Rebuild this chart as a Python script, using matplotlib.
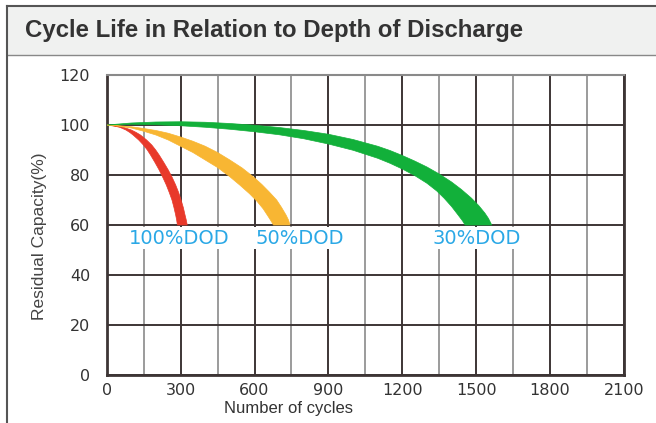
import matplotlib.pyplot as plt
import matplotlib.patches as patches
import numpy as np

# residual capacity bands (cycles, %)
red_outer_x = [0, 45, 70, 100, 120, 137, 162, 183, 199, 213, 232, 250, 266, 280, 292, 302, 311, 318, 323, 327]
red_outer_y = [100, 99.5, 99, 98, 97, 96, 94, 92, 90, 88, 85, 82, 79, 76, 73, 70, 67, 64, 62, 60]
red_inner_x = [0, 35, 55, 78, 94, 107, 130, 149, 165, 178, 196, 213, 228, 242, 254, 265, 273, 280, 284, 287]
red_inner_y = [100, 99.5, 99, 98, 97, 96, 94, 92, 90, 88, 85, 82, 79, 76, 73, 70, 67, 64, 62, 60]

orange_outer_x = [0, 50, 100, 150, 200, 250, 300, 350, 400, 450, 500, 550, 595, 630, 660, 690, 710, 728, 738, 744]
orange_outer_y = [100, 99.7, 99.3, 98.6, 97.8, 96.7, 95.2, 93.5, 91.5, 89, 86, 82.8, 79.3, 76.2, 73.2, 70, 67, 64, 62, 60]
orange_inner_x = [0, 50, 100, 150, 200, 250, 300, 350, 400, 450, 500, 540, 580, 610, 635, 655, 668, 677]
orange_inner_y = [100, 99.5, 98.8, 97.5, 96, 94, 91.5, 89, 86, 83, 79.3, 76, 72.5, 69.5, 66.5, 63.5, 61.5, 60]

green_outer_x = [0, 100, 200, 300, 400, 500, 600, 700, 800, 900, 1000, 1100, 1150, 1200, 1250, 1300,
                 1350, 1400, 1440, 1480, 1510, 1535, 1550, 1563]
green_outer_y = [100, 100.8, 101.2, 101.3, 101.1, 100.6, 99.9, 99, 97.8, 96.3, 94.2, 91.5, 89.8, 87.8, 85.6, 83.2,
                 80.4, 77.2, 74.2, 70.8, 67.8, 64.8, 62.6, 60]
green_inner_x = [0, 100, 200, 300, 400, 500, 600, 700, 800, 900, 1000, 1100, 1150, 1200, 1250, 1300,
                 1340, 1370, 1400, 1425, 1445, 1455]
green_inner_y = [100, 100.3, 100.1, 99.7, 99.1, 98.3, 97.3, 96.1, 94.5, 92.4, 89.9, 86.7, 84.7, 82.4, 79.8, 76.7,
                 73.6, 70.7, 67.4, 64.2, 61.6, 60]

labels = ['100%DOD', '50%DOD', '30%DOD']
label_x = [294, 785, 1500]
label_y = [54.8, 54.8, 54.8]

xticks = [0, 300, 600, 900, 1200, 1500, 1800, 2100]
yticks = [0, 20, 40, 60, 80, 100, 120]

fig = plt.figure(figsize=(6.56, 4.23), dpi=100)

# header bar and frame
fig.patches.append(patches.Rectangle((7 / 656, 1 - 55 / 423), 1, 49 / 423, transform=fig.transFigure,
                                     facecolor='#f0f1f0', edgecolor='none', zorder=0))
fig.add_artist(plt.Line2D([7 / 656, 1], [1 - 6 / 423] * 2, color='#555555', lw=1.5))
fig.add_artist(plt.Line2D([7 / 656, 1], [1 - 55 / 423] * 2, color='#888888', lw=1))
fig.add_artist(plt.Line2D([7 / 656] * 2, [0, 1 - 6 / 423], color='#555555', lw=1.5))
fig.text(25 / 656, 1 - 31 / 423, 'Cycle Life in Relation to Depth of Discharge', fontsize=17.3,
         fontweight='bold', family='Liberation Sans', color='#333333', va='center', ha='left')

ax = fig.add_axes([106.7 / 656, 1 - 375 / 423, (624 - 106.7) / 656, 300 / 423])

ax.fill(np.concatenate([red_outer_x, red_inner_x[::-1]]),
        np.concatenate([red_outer_y, red_inner_y[::-1]]), color='#e8392a', lw=0.5, ec='#e8392a', zorder=3)
ax.fill(np.concatenate([orange_outer_x, orange_inner_x[::-1]]),
        np.concatenate([orange_outer_y, orange_inner_y[::-1]]), color='#f8b633', lw=0.5, ec='#f8b633', zorder=3)
ax.fill(np.concatenate([green_outer_x, green_inner_x[::-1]]),
        np.concatenate([green_outer_y, green_inner_y[::-1]]), color='#12b03a', lw=0.5, ec='#12b03a', zorder=3)

for t, x, y in zip(labels, label_x, label_y):
    ax.text(x, y, t, fontsize=14, color='#2aa8e6', ha='center', va='center', zorder=4,
            bbox=dict(facecolor='white', edgecolor='none', pad=1))

ax.set_xlim(0, 2100)
ax.set_ylim(0, 120)
ax.set_xticks(xticks)
ax.set_yticks(yticks)
ax.set_xticks(np.arange(150, 2100, 300), minor=True)
ax.tick_params(which='both', length=0)
ax.tick_params(axis='x', pad=6, labelsize=11.5, labelcolor='#333333')
ax.tick_params(axis='y', pad=12, labelsize=11.5, labelcolor='#333333')
ax.grid(which='major', color='#3d3535', lw=1.4, zorder=1)
ax.grid(which='minor', axis='x', color='#8a8a8a', lw=1.2, zorder=1)
ax.set_axisbelow(True)
for s in ['left', 'bottom', 'right']:
    ax.spines[s].set_color('#3d3535')
    ax.spines[s].set_linewidth(2)
ax.spines['top'].set_color('#8a8a8a')
ax.spines['top'].set_linewidth(1.5)

fig.text(40 / 656, 1 - 236 / 423, 'Residual Capacity(%)', rotation=90, fontsize=12.5,
         family='Liberation Sans', color='#444444', ha='center', va='center')
fig.text(288 / 656, 1 - 408 / 423, 'Number of cycles', fontsize=12,
         family='Liberation Sans', color='#333333', ha='center', va='center')

fig.savefig('out.png', dpi=100)
